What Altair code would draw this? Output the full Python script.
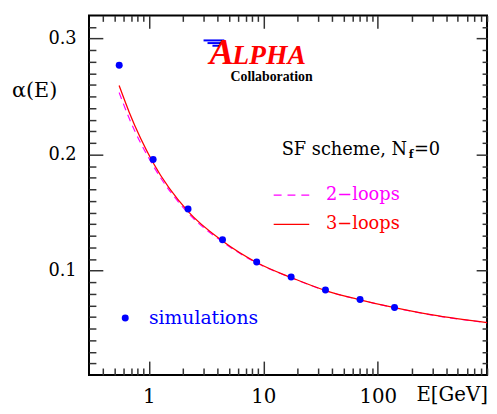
import altair as alt
import pandas as pd

# ---- data ----
E_sim = [0.551, 1.09, 2.2, 4.4, 8.75, 17.5, 34.9, 70, 140]
alpha_sim = [0.277, 0.1957, 0.153, 0.1265, 0.1074, 0.0944, 0.0833, 0.075, 0.0682]

E_curve = [0.55, 0.672, 1.09, 2.2, 4.4, 8.75, 17.5, 35, 70, 140, 300, 900]
alpha_3loop = [0.2595, 0.2368, 0.193, 0.151, 0.1255, 0.107, 0.094, 0.0828, 0.0748, 0.068, 0.0617, 0.0552]
alpha_2loop = [0.2535, 0.2315, 0.1905, 0.1497, 0.1248, 0.1066, 0.0938, 0.0827, 0.0747, 0.0679, 0.0616, 0.0551]

x_major = [1, 10, 100]
x_minor = [0.4, 0.5, 0.6, 0.7, 0.8, 0.9, 2, 3, 4, 5, 6, 7, 8, 9,
           20, 30, 40, 50, 60, 70, 80, 90, 200, 300, 400, 500, 600, 700, 800, 900]
y_major = [0.1, 0.2, 0.3]
y_minor = [0.02, 0.03, 0.04, 0.05, 0.06, 0.07, 0.08, 0.09,
           0.11, 0.12, 0.13, 0.14, 0.15, 0.16, 0.17, 0.18, 0.19,
           0.21, 0.22, 0.23, 0.24, 0.25, 0.26, 0.27, 0.28, 0.29, 0.31]

sim = pd.DataFrame({"E": E_sim, "alpha": alpha_sim})
c3 = pd.DataFrame({"E": E_curve, "alpha": alpha_3loop})
c2 = pd.DataFrame({"E": E_curve, "alpha": alpha_2loop})

FONT = "DejaVu Serif"
TICK = "#333333"

xs = alt.Scale(type="log", domain=[0.3, 900], nice=False)
ys = alt.Scale(domain=[0.01, 0.32], nice=False, zero=False)


def axis(orient, values, size, labels, fmt):
    kw = dict(orient=orient, values=values, tickSize=size, offset=-size,
              domain=False, grid=False, labels=labels, tickColor=TICK,
              tickWidth=1.5, title=None)
    if labels:
        kw.update(labelFont=FONT, labelColor="black", format=fmt)
        if orient == "bottom":
            kw.update(labelFontSize=20, labelPadding=12)
        else:
            kw.update(labelFontSize=18, labelPadding=13)
    return alt.Axis(**kw)


l2 = alt.Chart(c2).mark_line(color="#ff00ff", strokeDash=[7, 5], strokeWidth=1.2,
                             interpolate="monotone").encode(
    x=alt.X("E:Q", scale=xs, axis=axis("bottom", x_major, 14, True, "d")),
    y=alt.Y("alpha:Q", scale=ys, axis=axis("left", y_major, 14, True, ".1f")),
)
l3 = alt.Chart(c3).mark_line(color="#ff0000", strokeWidth=1.3,
                             interpolate="monotone").encode(
    x=alt.X("E:Q", scale=xs, axis=axis("bottom", x_minor, 7, False, "d")),
    y=alt.Y("alpha:Q", scale=ys, axis=axis("left", y_minor, 7, False, ".1f")),
)
pts = alt.Chart(sim).mark_circle(color="#0000ff", size=50, opacity=1).encode(
    x=alt.X("E:Q", scale=xs, axis=axis("top", x_major, 13, False, "d")),
    y=alt.Y("alpha:Q", scale=ys, axis=axis("right", y_major, 11, False, ".1f")),
)
ghost = alt.Chart(sim).mark_point(opacity=0).encode(
    x=alt.X("E:Q", scale=xs, axis=axis("top", x_minor, 6, False, "d")),
    y=alt.Y("alpha:Q", scale=ys, axis=axis("right", y_minor, 5, False, ".1f")),
)


def txt(s, x, y, size, color="black", align="left", baseline="middle",
        font=FONT, weight="normal", style="normal"):
    return alt.Chart(pd.DataFrame({"t": [s]})).mark_text(
        align=align, baseline=baseline, font=font, fontSize=size,
        fontWeight=weight, fontStyle=style, color=color,
    ).encode(x=alt.value(x), y=alt.value(y), text="t:N")


def hline(x1, x2, y, color, width=1.3, dash=None):
    kw = dict(color=color, strokeWidth=width)
    if dash:
        kw["strokeDash"] = dash
    return alt.Chart(pd.DataFrame({"a": [0]})).mark_rule(**kw).encode(
        x=alt.value(x1), x2=alt.value(x2), y=alt.value(y))


annots = [
    txt("α(E)", -78, 77, 21),
    txt("E[GeV]", 404, 384, 20, align="right"),
    txt("SF scheme, N", 322, 136, 18, align="right"),
    txt("f", 326, 141, 11, weight="bold", align="center"),
    txt("=0", 329, 136, 18),
    hline(187, 223, 182, "#ff00ff", 1.3, [8, 6]),
    txt("2−loops", 240, 182, 18, color="#ff00ff"),
    hline(187, 223, 211.5, "#ff0000", 1.3),
    txt("3−loops", 240, 211.5, 18, color="#ff0000"),
    alt.Chart(pd.DataFrame({"a": [0]})).mark_circle(color="#0000ff", size=50, opacity=1).encode(
        x=alt.value(36.7), y=alt.value(306.3)),
    txt("simulations", 60.7, 306, 19, color="#0000ff"),
    # ALPHA logo
    hline(116, 137, 25.3, "#0000ff", 2),
    hline(120, 134, 28, "#0000ff", 2),
    hline(125, 132, 30.7, "#0000ff", 2),
    txt("A", 122, 48.7, 37, color="#ff0000", baseline="alphabetic",
        font="Liberation Serif", weight="bold", style="italic"),
    txt("LPHA", 145, 48.7, 28, color="#ff0000", baseline="alphabetic",
        font="Liberation Serif", weight="bold", style="italic"),
    txt("Collaboration", 143.3, 62, 14, baseline="middle",
        font="Liberation Serif", weight="bold"),
]

chart = alt.layer(l2, l3, pts, ghost, *annots).resolve_axis(
    x="independent", y="independent"
).properties(
    width=403, height=364,
    autosize=alt.AutoSizeParams(type="none"),
    padding={"left": 82, "top": 5, "right": 2, "bottom": 35},
).configure_view(stroke="black", strokeWidth=2)

chart.save("out.html", embed_options={"renderer": "svg", "actions": False})
